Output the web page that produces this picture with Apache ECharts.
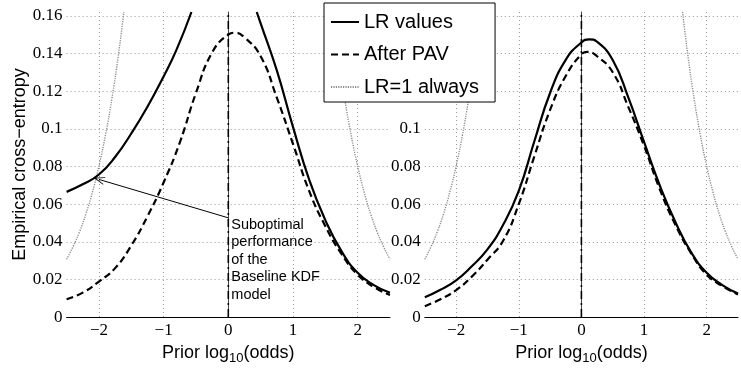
<!DOCTYPE html>
<html>
<head>
<meta charset="utf-8">
<script src="https://cdn.jsdelivr.net/npm/echarts@6/dist/echarts.min.js"></script>
<style>
  html, body { margin: 0; padding: 0; background: #fff; }
  #chart { width: 741px; height: 370px; }
</style>
</head>
<body>
<div id="chart"></div>
<script>
// values, [prior log10 odds, cross-entropy]
const leftLR = [
  [-2.5, 0.0665], [-2.25, 0.0705], [-2.0, 0.0757], [-1.75, 0.085], [-1.5, 0.0975],
  [-1.25, 0.1117], [-1.0, 0.1278], [-0.8, 0.142], [-0.57, 0.162],
  [0, '-'],
  [0.44, 0.162], [0.5, 0.156], [0.75, 0.131], [1.0, 0.101], [1.25, 0.073],
  [1.5, 0.0515], [1.75, 0.035], [2.0, 0.0235], [2.25, 0.017], [2.5, 0.0129]
]
const leftPAV = [
  [-2.5, 0.0095], [-2.25, 0.013], [-2.0, 0.0189], [-1.75, 0.026], [-1.5, 0.038],
  [-1.25, 0.0535], [-1.0, 0.0715], [-0.75, 0.0927], [-0.5, 0.119], [-0.25, 0.1405],
  [0, 0.1500], [0.1, 0.151], [0.25, 0.1485], [0.5, 0.1385], [0.75, 0.1165],
  [1.0, 0.092], [1.25, 0.067], [1.5, 0.0483], [1.75, 0.0335], [2.0, 0.0225],
  [2.25, 0.016], [2.5, 0.0117]
]
const rightLR = [
  [-2.5, 0.0105], [-2.25, 0.0145], [-2.0, 0.0195], [-1.75, 0.027], [-1.5, 0.036],
  [-1.25, 0.049], [-1.0, 0.067], [-0.75, 0.0935], [-0.5, 0.119], [-0.25, 0.1366],
  [0, 0.1458], [0.125, 0.1475], [0.25, 0.1462], [0.5, 0.1365], [0.75, 0.1165],
  [1.0, 0.093], [1.25, 0.070], [1.5, 0.0505], [1.75, 0.0345], [2.0, 0.0235],
  [2.25, 0.017], [2.5, 0.0125]
]
const rightPAV = [
  [-2.5, 0.0058], [-2.25, 0.0095], [-2.0, 0.0143], [-1.75, 0.0215], [-1.5, 0.0305],
  [-1.25, 0.0405], [-1.0, 0.060], [-0.75, 0.0855], [-0.5, 0.110], [-0.25, 0.128],
  [0, 0.1395], [0.1, 0.1408], [0.25, 0.1385], [0.5, 0.130], [0.75, 0.1115],
  [1.0, 0.091], [1.25, 0.068], [1.5, 0.049], [1.75, 0.034], [2.0, 0.0225],
  [2.25, 0.0165], [2.5, 0.012]
]
// LR=1 always (same in both panels)
const alwaysOne = [
  [-2.5, 0.0307], [-2.4, 0.0374], [-2.3, 0.0453], [-2.2, 0.0549], [-2.1, 0.0664],
  [-2.0, 0.0802], [-1.9, 0.0965], [-1.8, 0.1159], [-1.7, 0.1389], [-1.615, 0.162],
  [0, '-'],
  [1.615, 0.162], [1.7, 0.1389], [1.8, 0.1159], [1.9, 0.0965], [2.0, 0.0802],
  [2.1, 0.0664], [2.2, 0.0549], [2.3, 0.0453], [2.4, 0.0374], [2.5, 0.0307]
]
// vertical reference at log-odds 0
const zeroRef = [[0, 0], [0, 0.162]]
const seriesNames = ['LR values', 'After PAV', 'LR=1 always']
const arrowFrom = [0, 0.0527]
const arrowTo = [-2, 0.0731]
const noteText = 'Suboptimal\nperformance\nof the\nBaseline KDF\nmodel'

const sans = 'Liberation Sans'
const serif = 'Liberation Serif'

function fmtX (v) {
  if (Math.abs(v - Math.round(v)) > 1e-9) return ''
  v = Math.round(v)
  return v < 0 ? '\u2212' + (-v) : String(v)
}
function fmtY (v) {
  const r = Math.round(v * 50) / 50
  if (Math.abs(r - v) > 1e-9) return ''
  return r === 0 ? '0' : String(+r.toFixed(2))
}

function xAxisFor (i) {
  return {
    type: 'value',
    gridIndex: i,
    min: -2.5,
    max: 2.5,
    splitNumber: 5,
    name: '{n|Prior log}{s|10}{n|(odds)}',
    nameLocation: 'middle',
    nameGap: 21,
    nameTextStyle: {
      rich: {
        n: { fontFamily: sans, fontSize: 18, color: '#000' },
        s: { fontFamily: sans, fontSize: 13, color: '#000', padding: [11, 0, 0, 0] }
      }
    },
    axisLine: { lineStyle: { color: '#000', width: 1 } },
    axisTick: { show: false },
    axisLabel: { fontFamily: serif, fontSize: 17, color: '#000', margin: 5, formatter: fmtX },
    splitLine: { show: true, showMinLine: false, showMaxLine: false, lineStyle: { color: '#999', type: [1, 3], width: 1 } }
  }
}
function yAxisFor (i) {
  return {
    type: 'value',
    gridIndex: i,
    min: 0,
    max: 0.162,
    interval: 0.02,
    name: i === 0 ? 'Empirical cross\u2212entropy' : '',
    nameLocation: 'middle',
    nameGap: 38,
    nameTextStyle: { fontFamily: sans, fontSize: 18, color: '#000' },
    axisLine: { show: true, lineStyle: { color: '#444', width: 1 } },
    axisTick: { show: false },
    axisLabel: { fontFamily: serif, fontSize: 17, color: '#000', margin: 4, formatter: fmtY },
    splitLine: { show: true, showMaxLine: false, lineStyle: { color: '#999', type: [1, 3], width: 1 } }
  }
}

function panelSeries (i, lr, pav) {
  const s = [
    {
      name: 'zero', type: 'line', xAxisIndex: i, yAxisIndex: i,
      data: zeroRef, symbol: 'none', silent: true,
      lineStyle: { color: '#000', width: 1.6, type: [8, 4, 2, 4] }, z: 2
    },
    {
      name: seriesNames[0], type: 'line', xAxisIndex: i, yAxisIndex: i,
      data: lr, symbol: 'none', smooth: 0.5, connectNulls: false,
      lineStyle: { color: '#000', width: 2.2 }, itemStyle: { color: '#000' }, z: 4
    },
    {
      name: seriesNames[1], type: 'line', xAxisIndex: i, yAxisIndex: i,
      data: pav, symbol: 'none', smooth: 0.5,
      lineStyle: { color: '#000', width: 2.2, type: [7, 4] }, itemStyle: { color: '#000' }, z: 3
    },
    {
      name: seriesNames[2], type: 'line', xAxisIndex: i, yAxisIndex: i,
      data: alwaysOne, symbol: 'none', smooth: 0.5, connectNulls: false,
      lineStyle: { color: '#8c8c8c', width: 1.4, type: [1.2, 1.2] }, itemStyle: { color: '#8c8c8c' }, z: 2
    }
  ]
  if (i === 0) {
    s[1].markLine = {
      silent: true,
      label: { show: false },
      symbolSize: [8, 11],
      lineStyle: { color: '#000', type: 'solid', width: 1 },
      data: [[
        { coord: arrowFrom, symbol: 'none' },
        { coord: arrowTo, symbol: 'path://M5,0 L10,10 L8.8,10 L5,2.4 L1.2,10 L0,10 Z' }
      ]]
    }
  }
  return s
}

const chart = echarts.init(document.getElementById('chart'))
chart.setOption({
  animation: false,
  backgroundColor: '#fff',
  grid: [
    { left: 66.6, top: 12, width: 323.4, height: 311 },
    { left: 424.8, top: 12, width: 323.5, height: 311 }
  ],
  xAxis: [xAxisFor(0), xAxisFor(1)],
  yAxis: [yAxisFor(0), yAxisFor(1)],
  legend: {
    data: seriesNames,
    orient: 'vertical',
    left: 324,
    top: 3,
    padding: [8, 16, 4, 6],
    itemGap: 10.5,
    itemWidth: 28,
    itemHeight: 14,
    backgroundColor: '#fff',
    borderColor: '#000',
    borderWidth: 1,
    borderRadius: 0,
    selectedMode: false,
    itemStyle: { opacity: 0 },
    textStyle: { fontFamily: sans, fontSize: 20, color: '#000', lineHeight: 22 }
  },
  series: panelSeries(0, leftLR, leftPAV).concat(panelSeries(1, rightLR, rightPAV))
})

const p = chart.convertToPixel({ gridIndex: 0 }, arrowFrom)
chart.setOption({
  graphic: [{
    type: 'text',
    left: p[0] + 3,
    top: p[1] - 2,
    style: { text: noteText, fontFamily: sans, fontSize: 14.5, lineHeight: 17.5, fill: '#000' }
  }]
})
</script>
</body>
</html>
